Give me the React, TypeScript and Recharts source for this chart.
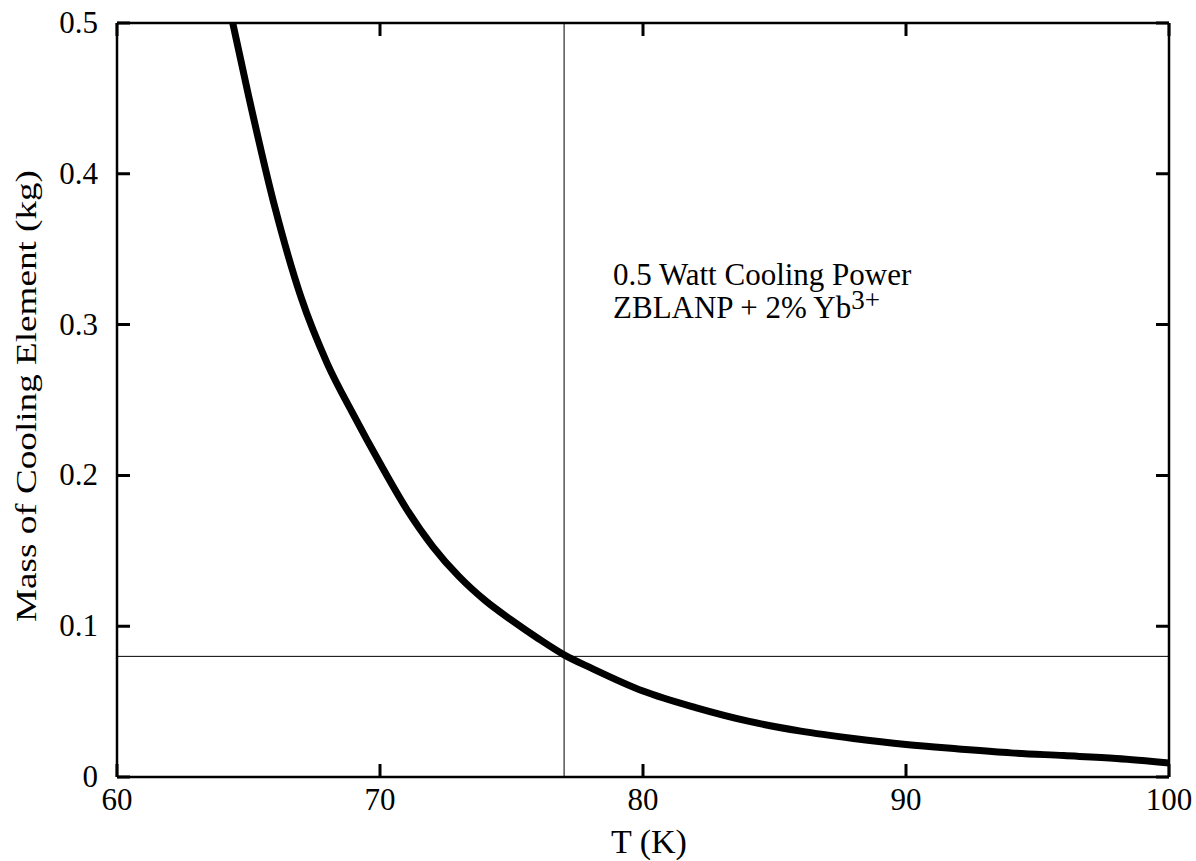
import React from 'react';
import { LineChart, Line, XAxis, YAxis, ReferenceLine, ReferenceDot } from 'recharts';

const temperatures = [64.4, 65, 66, 67, 68, 69, 70, 71, 72, 73, 74, 75, 76, 77, 78, 80, 82, 84, 86, 88, 90, 92, 94, 96, 98, 100];
const masses = [0.5, 0.452, 0.378, 0.318, 0.274, 0.24, 0.208, 0.178, 0.153, 0.133, 0.117, 0.104, 0.092, 0.081, 0.0725, 0.057, 0.046, 0.037, 0.0304, 0.0255, 0.0215, 0.0186, 0.016, 0.0142, 0.0123, 0.0093];
const xTicks = [60, 70, 80, 90, 100];
const yTicks = [0, 0.1, 0.2, 0.3, 0.4, 0.5];
const xDomain = [60, 100];
const yDomain = [0, 0.5];
const markerT = 77;
const markerMass = 0.08;
const annotationLines = ['0.5 Watt Cooling Power', 'ZBLANP + 2% Yb', '3+'];
const annotationPos = { t: 78.86, m: 0.326 };

const data = temperatures.map((t, i) => ({ t, m: masses[i] }));

const CHART_W = 1196;
const CHART_H = 861;
const MARGIN = { top: 23, right: 27, left: 0, bottom: 0 };
const PLOT_RIGHT = CHART_W - MARGIN.right;
const PLOT_TOP = MARGIN.top;

const FONT = '"Liberation Serif", "Times New Roman", serif';
const FS = 31;
const TICK = 13;
const AXW = 2.5;
const TW = 3;

const fmtY = (v: number) => (v === 0 ? '0' : v.toFixed(1));

const LeftTick = (p: any) => {
  const x = Number(p.x);
  const y = Number(p.y);
  return (
    <g>
      <path d={`M${x},${y}h${TICK}M${PLOT_RIGHT},${y}h${-TICK}`} stroke="#000" strokeWidth={TW} fill="none" />
      <text x={x - 19} y={y + 10} textAnchor="end" fontFamily={FONT} fontSize={FS} fill="#000">
        {fmtY(p.payload.value)}
      </text>
    </g>
  );
};
const BottomTick = (p: any) => {
  const x = Number(p.x);
  const y = Number(p.y);
  return (
    <g>
      <path d={`M${x},${y}v${-TICK}M${x},${PLOT_TOP}v${TICK}`} stroke="#000" strokeWidth={TW} fill="none" />
      <text x={x} y={y + 33} textAnchor="middle" fontFamily={FONT} fontSize={FS} fill="#000">
        {p.payload.value}
      </text>
    </g>
  );
};

const axisLineStyle = { stroke: '#000', strokeWidth: AXW };

export default function App() {
  return (
    <div style={{ position: 'absolute', left: 0, top: 0, background: '#fff' }}>
      <LineChart width={CHART_W} height={CHART_H} data={data} margin={MARGIN}>
        <XAxis
          xAxisId="b"
          dataKey="t"
          type="number"
          domain={xDomain}
          ticks={xTicks}
          height={84}
          tickSize={0}
          tickMargin={0}
          tick={BottomTick}
          axisLine={axisLineStyle}
          tickLine={false}
          label={{
            content: (props: any) => {
              const vb = props.viewBox;
              return (
                <text x={vb.x + vb.width / 2 + 6} y={vb.y + 76} textAnchor="middle" fontFamily={FONT} fontSize={34} fill="#000">
                  T (K)
                </text>
              );
            },
          }}
        />
        <YAxis
          yAxisId="l"
          type="number"
          domain={yDomain}
          ticks={yTicks}
          width={117}
          tickSize={0}
          tickMargin={0}
          tick={LeftTick}
          axisLine={axisLineStyle}
          tickLine={false}
          label={{
            content: (props: any) => {
              const vb = props.viewBox;
              const cx = vb.x + 25;
              const cy = vb.y + vb.height / 2 - 4;
              return (
                <text
                  x={cx}
                  y={cy}
                  transform={`rotate(-90 ${cx} ${cy})`}
                  textAnchor="middle"
                  dominantBaseline="central"
                  fontFamily={FONT}
                  fontSize={30}
                  textLength={452}
                  lengthAdjust="spacingAndGlyphs"
                  fill="#000"
                >
                  Mass of Cooling Element (kg)
                </text>
              );
            },
          }}
        />
        <ReferenceLine xAxisId="b" yAxisId="l" y={yDomain[1]} stroke="#000" strokeWidth={AXW} />
        <ReferenceLine xAxisId="b" yAxisId="l" x={xDomain[1]} stroke="#000" strokeWidth={AXW} />
        <ReferenceLine xAxisId="b" yAxisId="l" x={markerT} stroke="#000" strokeWidth={1} />
        <ReferenceLine xAxisId="b" yAxisId="l" y={markerMass} stroke="#000" strokeWidth={1} />
        <Line
          xAxisId="b"
          yAxisId="l"
          dataKey="m"
          type="monotone"
          stroke="#000"
          strokeWidth={7}
          dot={false}
          isAnimationActive={false}
        />
        <ReferenceDot
          xAxisId="b"
          yAxisId="l"
          x={annotationPos.t}
          y={annotationPos.m}
          r={0}
          fill="none"
          stroke="none"
          label={{
            content: (props: any) => {
              const vb = props.viewBox;
              const x = vb.x;
              const y = vb.y;
              return (
                <g fontFamily={FONT} fontSize={FS} fill="#000">
                  <text x={x} y={y}>{annotationLines[0]}</text>
                  <text x={x} y={y + 33}>
                    {annotationLines[1]}
                    <tspan dy={-9} fontSize={27}>{annotationLines[2]}</tspan>
                  </text>
                </g>
              );
            },
          }}
        />
      </LineChart>
    </div>
  );
}
